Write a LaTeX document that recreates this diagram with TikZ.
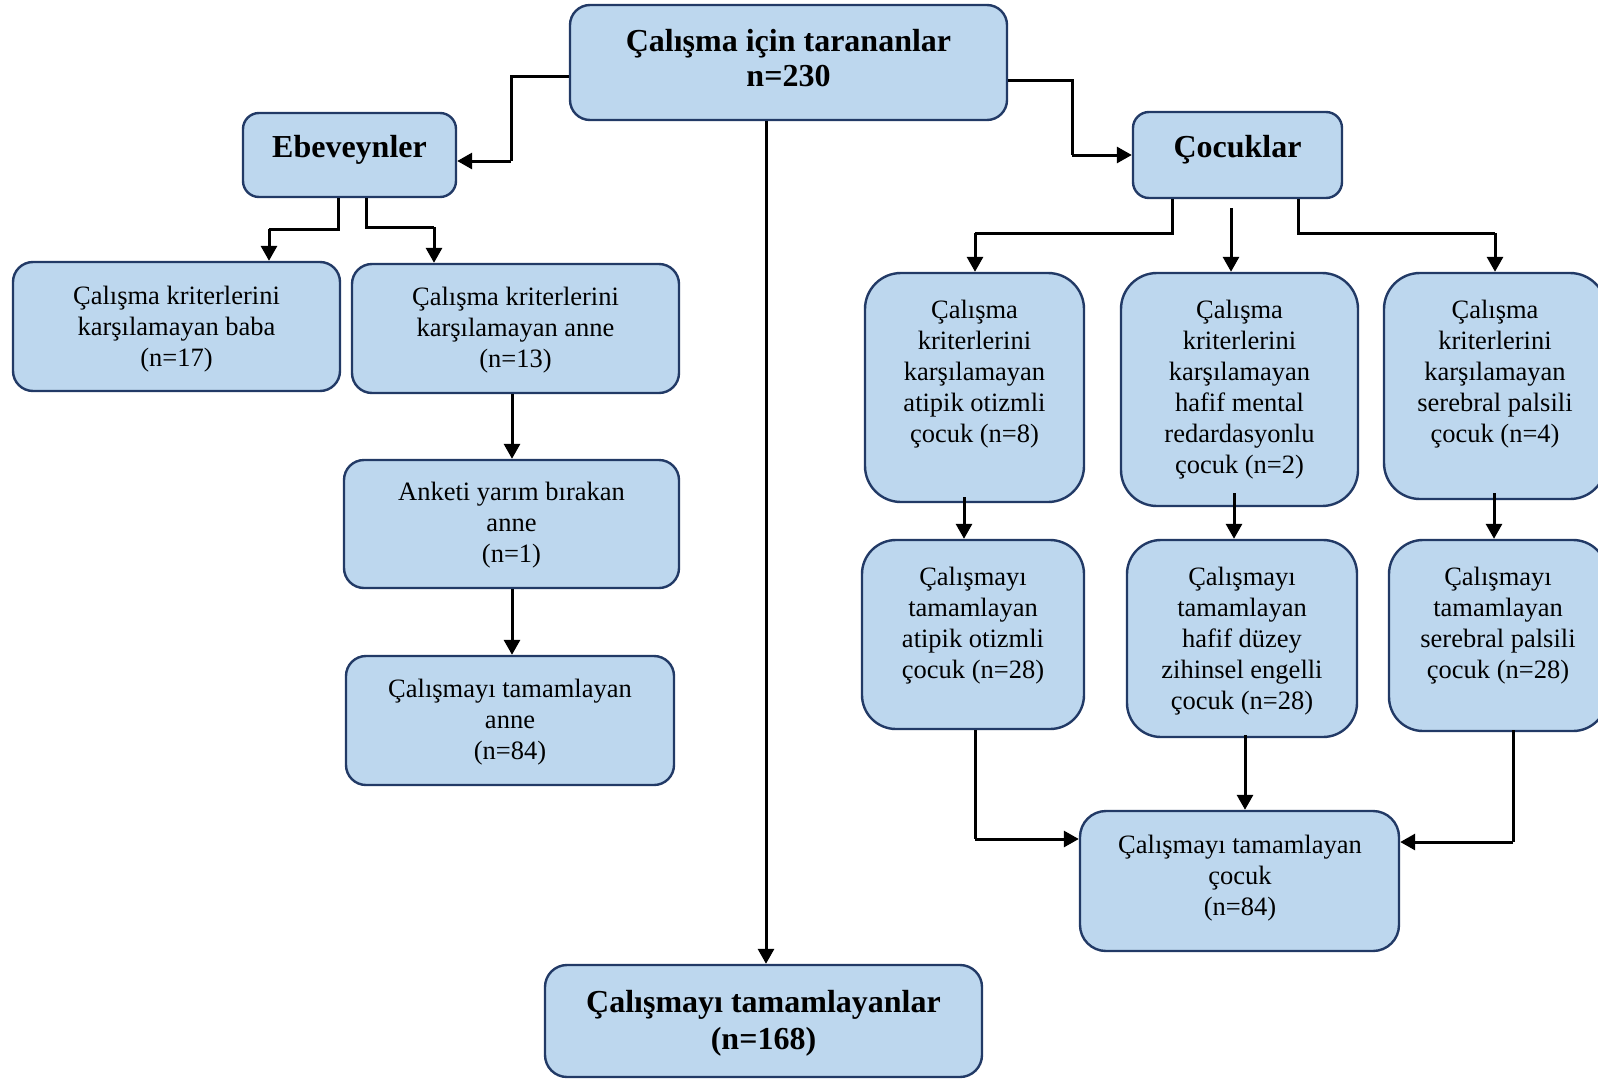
\documentclass[tikz,border=0pt]{standalone}
\usepackage{fontspec}
\setmainfont{Liberation Serif}
\usetikzlibrary{arrows.meta}
\definecolor{boxfill}{RGB}{189,215,238}
\definecolor{boxline}{RGB}{34,58,102}
\begin{document}
\begin{tikzpicture}[x=1pt,y=-1pt,
  box/.style={draw=boxline,fill=boxfill,line width=2.4pt,inner sep=0pt},
  rtxt/.style={align=center,inner sep=0pt,font=\fontsize{26.5}{31}\selectfont},
  btxt/.style={align=center,inner sep=0pt,font=\fontsize{32}{35}\selectfont\bfseries},
  arr/.style={line width=3pt,-{Triangle[width=16pt,length=15pt]}},
  ln/.style={line width=3pt}]
\clip (0,0) rectangle (1598,1079);
\fill[white] (0,0) rectangle (1598,1079);
% boxes
\node[box,rounded corners=20pt,minimum width=437pt,minimum height=115pt] (top) at (788.5,62.5) {};
\node[btxt] (topt) at (788.5,58.5) {Çalışma için tarananlar\\n=230};
\node[box,rounded corners=16pt,minimum width=213pt,minimum height=84pt] (eb) at (349.5,155) {};
\node[btxt] (ebt) at (349.5,150) {Ebeveynler};
\node[box,rounded corners=16pt,minimum width=209pt,minimum height=86pt] (coc) at (1237.5,155) {};
\node[btxt] (coct) at (1237.5,150) {Çocuklar};
\node[box,rounded corners=20pt,minimum width=327pt,minimum height=129pt] (baba) at (176.5,326.5) {};
\node[rtxt] (babat) at (176.5,329) {Çalışma kriterlerini\\karşılamayan baba\\(n=17)};
\node[box,rounded corners=20pt,minimum width=327pt,minimum height=129pt] (anne) at (515.5,328.5) {};
\node[rtxt] (annet) at (515.5,330.5) {Çalışma kriterlerini\\karşılamayan anne\\(n=13)};
\node[box,rounded corners=20pt,minimum width=335pt,minimum height=128pt] (anket) at (511.5,524) {};
\node[rtxt] (ankett) at (511.5,525.5) {Anketi yarım bırakan\\anne\\(n=1)};
\node[box,rounded corners=20pt,minimum width=328pt,minimum height=129pt] (tanne) at (510,720.5) {};
\node[rtxt] (tannet) at (510,722.5) {Çalışmayı tamamlayan\\anne\\(n=84)};
\node[box,rounded corners=22pt,minimum width=437pt,minimum height=112pt] (fin) at (763.5,1021) {};
\node[btxt,font=\fontsize{32}{37}\selectfont\bfseries] (fint) at (763.5,1023) {Çalışmayı tamamlayanlar\\(n=168)};
% children row 1
\node[box,rounded corners=36pt,minimum width=219pt,minimum height=229pt] (a1) at (974.5,387.5) {};
\node[rtxt] (a1t) at (974.5,374) {Çalışma\\kriterlerini\\karşılamayan\\atipik otizmli\\çocuk (n=8)};
\node[box,rounded corners=36pt,minimum width=237pt,minimum height=233pt] (b1) at (1239.5,389.5) {};
\node[rtxt] (b1t) at (1239.5,390) {Çalışma\\kriterlerini\\karşılamayan\\hafif mental\\redardasyonlu\\çocuk (n=2)};
\node[box,rounded corners=36pt,minimum width=222pt,minimum height=226pt] (c1) at (1495,386) {};
\node[rtxt] (c1t) at (1495,374) {Çalışma\\kriterlerini\\karşılamayan\\serebral palsili\\çocuk (n=4)};
% children row 2
\node[box,rounded corners=34pt,minimum width=222pt,minimum height=189pt] (a2) at (973,634.5) {};
\node[rtxt] (a2t) at (973,625.5) {Çalışmayı\\tamamlayan\\atipik otizmli\\çocuk (n=28)};
\node[box,rounded corners=34pt,minimum width=230pt,minimum height=197pt] (b2) at (1242,638.5) {};
\node[rtxt] (b2t) at (1242,641.5) {Çalışmayı\\tamamlayan\\hafif düzey\\zihinsel engelli\\çocuk (n=28)};
\node[box,rounded corners=34pt,minimum width=218pt,minimum height=191pt] (c2) at (1498,635.5) {};
\node[rtxt] (c2t) at (1498,625.5) {Çalışmayı\\tamamlayan\\serebral palsili\\çocuk (n=28)};
\node[box,rounded corners=26pt,minimum width=319pt,minimum height=140pt] (cfin) at (1239.5,881) {};
\node[rtxt] (cfint) at (1240,878.5) {Çalışmayı tamamlayan\\çocuk\\(n=84)};
% connectors
\draw[ln] (top.west |- 0,76) -- (511,76) -- (511,161);
\draw[arr] (511,161) -- (eb.east |- 0,161);
\draw[ln] (eb.south -| 338,0) -- (338,229) -- (269,229);
\draw[arr] (269,229) -- (baba.north -| 269,0);
\draw[ln] (eb.south -| 366,0) -- (366,227) -- (434,227);
\draw[arr] (434,227) -- (anne.north -| 434,0);
\draw[arr] (anne.south -| 512,0) -- (anket.north -| 512,0);
\draw[arr] (anket.south -| 512,0) -- (tanne.north -| 512,0);
\draw[arr] (top.south -| 766,0) -- (fin.north -| 766,0);
\draw[ln] (top.east |- 0,80) -- (1072,80) -- (1072,155);
\draw[arr] (1072,155) -- (coc.west);
\draw[ln] (coc.south -| 1172,0) -- (1172,233) -- (975,233);
\draw[arr] (975,233) -- (a1.north -| 975,0);
\draw[arr] (1231,208) -- (b1.north -| 1231,0);
\draw[ln] (coc.south -| 1298,0) -- (1298,233) -- (1495,233);
\draw[arr] (1495,233) -- (c1.north -| 1495,0);
\draw[arr] (964,497) -- (a2.north -| 964,0);
\draw[arr] (1234,493) -- (b2.north -| 1234,0);
\draw[arr] (1494,493) -- (c2.north -| 1494,0);
\draw[ln] (a2.south -| 975,0) -- (975,839);
\draw[arr] (975,839) -- (cfin.west |- 0,839);
\draw[arr] (1245,735) -- (cfin.north -| 1245,0);
\draw[ln] (1513,730) -- (1513,842);
\draw[arr] (1513,842) -- (cfin.east |- 0,842);
\end{tikzpicture}
\end{document}
